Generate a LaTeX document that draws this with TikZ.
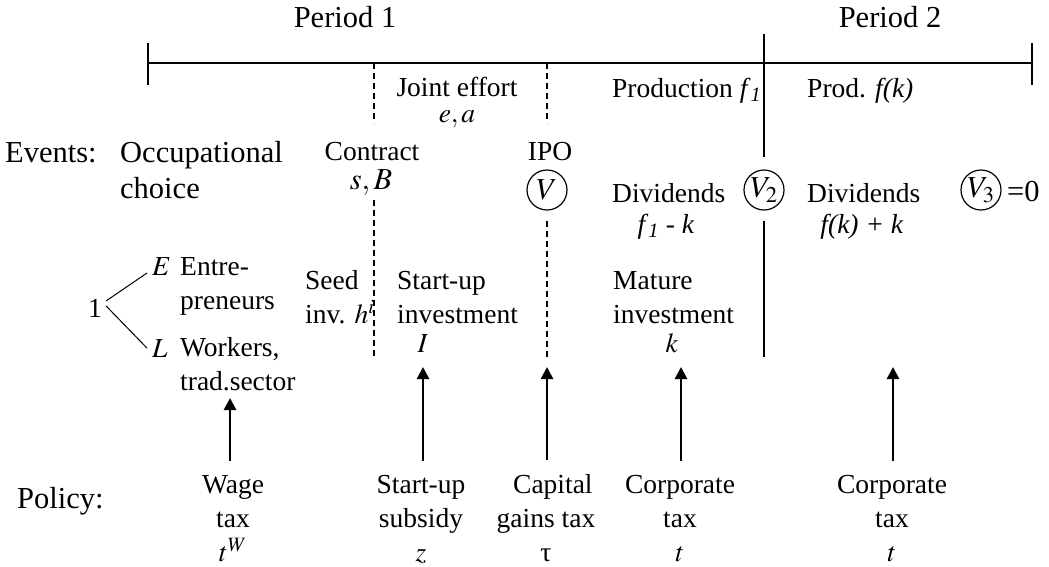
\documentclass[tikz,border=0pt]{standalone}
\usepackage{mathptmx}
\usepackage[no-math]{fontspec}
\setmainfont{Liberation Serif}
\usepackage{tikz}
\usetikzlibrary{arrows.meta,positioning,calc}

\tikzset{
  lbl/.style={font=\fontsize{27.5}{34}\selectfont, inner sep=0pt},
  big/.style={font=\fontsize{30.5}{36}\selectfont, inner sep=0pt},
  pol/.style={lbl, align=center, anchor=base},
  stack/.style={lbl, align=left, anchor=base west},
  val/.style={draw, circle, minimum size=40pt, inner sep=0pt, line width=1.2pt, font=\fontsize{30.5}{36}\selectfont},
  tl/.style={line width=1.3pt},
  cut/.style={dash pattern=on 6pt off 4pt, line width=1.8pt},
  up/.style={-{Triangle[length=12pt,width=12pt]}, line width=2.7pt, shorten <=14pt}
}

\begin{document}
\begin{tikzpicture}[x=1pt,y=-1pt]
  \useasboundingbox (0,0) rectangle (1049,566);

  \coordinate (t0) at (148,63);
  \coordinate (t1) at (1032,63);
  \draw[tl] (t0) -- (t1);
  \draw[tl] ([yshift=20pt]t0) -- ([yshift=-22pt]t0);
  \draw[tl] ([yshift=20pt]t1) -- ([yshift=-22pt]t1);
  \node[big,anchor=base] (per1) at (345,27) {Period 1};
  \node[big,anchor=base] (per2) at (890,27) {Period 2};

  \node[lbl,anchor=base] (joint) at (457,96) {Joint effort};
  \node[lbl,anchor=base] (ea) at (457,122) {$e,a$};
  \node[lbl,anchor=base west] (prod1) at (612,97) {Production \textit{f}\textsubscript{\textit{1}}};
  \node[lbl,anchor=base west] (prod2) at (807,97) {Prod. \textit{f(k)}};

  \node[big,anchor=base west] (events) at (5,162) {Events:};
  \node[big,align=left,anchor=base west] (occ) at (120,198) {Occupational\\choice};
  \node[lbl,anchor=base] (contr) at (372,160) {Contract};
  \node[big,anchor=base] (sb) at (371,189) {$s,B$};
  \node[lbl,anchor=base] (ipo) at (550,160) {IPO};
  \node[val] (v1) at (547,190) {$V$};
  \node[val] (v2) at (764,190) {$V_2$};
  \node[val] (v3) at (981,190) {$V_3$};
  \node[big,anchor=base west] (zero) at (1007,201) {=0};
  \node[lbl,anchor=base west] (div1) at (612,202) {Dividends};
  \node[lbl,anchor=base] (fk1) at (666,233) {\textit{f}\textsubscript{\textit{1}} \textit{- k}};
  \node[lbl,anchor=base west] (div2) at (807,202) {Dividends};
  \node[lbl,anchor=base] (fk2) at (862,233) {\textit{f(k) + k}};

  \coordinate (p2top) at (764,34);
  \coordinate (p2bot) at (764,357);
  \draw[line width=1.5pt] (p2top) -- ([yshift=12pt]v2.north);
  \draw[line width=1.5pt] ([yshift=-10pt]v2.south) -- (p2bot);

  \coordinate (c1bot) at (374,357);
  \coordinate (c2bot) at (547,357);
  \draw[cut] (t0 -| c1bot) -- (374,123);
  \draw[cut] (374,200) -- (c1bot);
  \draw[cut] (t0 -| c2bot) -- (547,123);
  \draw[cut] ([yshift=-10pt]v1.south) -- (c2bot);

  \node[lbl,anchor=base] (one) at (95,317) {1};
  \node[lbl,anchor=base west] (ent) at (152,275) {$E$};
  \node[stack] (entre) at (180,309) {Entre-\\preneurs};
  \node[lbl,anchor=base west] (lw) at (152,357) {$L$};
  \node[stack] (work) at (180,390) {Workers,\\trad.sector};
  \draw[line width=1pt] ([xshift=4pt,yshift=7pt]one.east) -- ([xshift=-5pt,yshift=2pt]ent.base west);
  \draw[line width=1pt] ([xshift=4pt,yshift=2pt]one.east) -- ([xshift=-5pt]lw.west);

  \node[stack] (seed) at (305,323) {Seed\\inv. $h^i$};
  \node[stack] (su) at (397,323) {Start-up\\investment};
  \node[lbl,anchor=base] (ii) at (423,352) {$I$};
  \node[stack] (mat) at (613,323) {Mature\\investment};
  \node[lbl,anchor=base] (kk) at (672,352) {$k$};

  \node[big,anchor=base west] (policy) at (17,508) {Policy:};
  \node[pol] (wage) at (233,561) {Wage\\tax\\$t^W$};
  \node[pol] (sub) at (421,561) {Start-up\\subsidy\\$z$};
  \node[pol] (capg) at (546,561) {\phantom{g}Capital\\gains tax\\τ};
  \node[pol] (corp1) at (680,561) {Corporate\\tax\\$t$};
  \node[pol] (corp2) at (892,561) {Corporate\\tax\\$t$};

  \coordinate (wtip) at (230,398);
  \coordinate (stip) at (423,367);
  \coordinate (ctip) at (547,367);
  \coordinate (ktip) at (681,367);
  \coordinate (gtip) at (893,367);
  \draw[up] (wtip |- wage.north) -- (wtip);
  \draw[up] (stip |- sub.north) -- (stip);
  \draw[up] (ctip |- capg.north) -- (ctip);
  \draw[up] (ktip |- corp1.north) -- (ktip);
  \draw[up] (gtip |- corp2.north) -- (gtip);
\end{tikzpicture}
\end{document}
